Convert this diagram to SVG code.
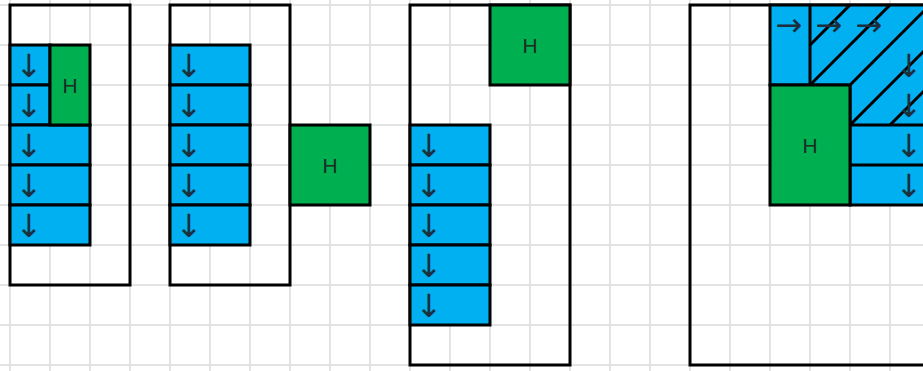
<svg xmlns="http://www.w3.org/2000/svg" width="923" height="371" viewBox="0 0 923 371">
<style>
.grid{stroke:#dcdcdc;stroke-width:1.5;fill:none}
.frame{fill:none;stroke:#000;stroke-width:3}
.b{fill:#00b0f0;stroke:#000;stroke-width:3}
.g{fill:#00b050;stroke:#000;stroke-width:3}
.ln{stroke:#000;stroke-width:3;fill:none}
.ar{font-family:"DejaVu Sans",sans-serif;font-size:32px;fill:#1c2f3e;text-anchor:middle}
.h{font-family:"Liberation Sans",Arial,sans-serif;font-size:21px;fill:#1b2e22;text-anchor:middle}
</style>
<defs>
<clipPath id="c4"><polygon points="810,5 970,5 970,125 850,125 850,85 810,85"/></clipPath>
</defs>
<rect width="923" height="371" fill="#fff"/>
<g id="grid" class="grid">
<path d="M10 0V371M50 0V371M90 0V371M130 0V371M170 0V371M210 0V371M250 0V371M290 0V371M330 0V371M370 0V371M410 0V371M450 0V371M490 0V371M530 0V371M570 0V371M610 0V371M650 0V371M690 0V371M730 0V371M770 0V371M810 0V371M850 0V371M890 0V371"/>
<path d="M0 5H923M0 45H923M0 85H923M0 125H923M0 165H923M0 205H923M0 245H923M0 285H923M0 325H923M0 365H923"/>
</g>
<g id="connectors"/>
<g id="plan1">
<rect class="frame" x="10" y="5" width="120" height="280"/>
<rect class="b" x="10" y="45" width="40" height="40"/>
<rect class="b" x="10" y="85" width="40" height="40"/>
<rect class="b" x="10" y="125" width="80" height="40"/>
<rect class="b" x="10" y="165" width="80" height="40"/>
<rect class="b" x="10" y="205" width="80" height="40"/>
<rect class="g" x="50" y="45" width="40" height="80"/>
<text class="h" x="70" y="93">H</text>
<text class="ar" x="29" y="77">↓</text>
<text class="ar" x="29" y="117">↓</text>
<text class="ar" x="29" y="157">↓</text>
<text class="ar" x="29" y="197">↓</text>
<text class="ar" x="29" y="237">↓</text>
</g>
<g id="plan2">
<rect class="frame" x="170" y="5" width="120" height="280"/>
<rect class="b" x="170" y="45" width="80" height="40"/>
<rect class="b" x="170" y="85" width="80" height="40"/>
<rect class="b" x="170" y="125" width="80" height="40"/>
<rect class="b" x="170" y="165" width="80" height="40"/>
<rect class="b" x="170" y="205" width="80" height="40"/>
<rect class="g" x="290" y="125" width="80" height="80"/>
<text class="h" x="330" y="173">H</text>
<text class="ar" x="189" y="77">↓</text>
<text class="ar" x="189" y="117">↓</text>
<text class="ar" x="189" y="157">↓</text>
<text class="ar" x="189" y="197">↓</text>
<text class="ar" x="189" y="237">↓</text>
</g>
<g id="plan3">
<rect class="frame" x="410" y="5" width="160" height="360"/>
<rect class="g" x="490" y="5" width="80" height="80"/>
<text class="h" x="530" y="53">H</text>
<rect class="b" x="410" y="125" width="80" height="40"/>
<rect class="b" x="410" y="165" width="80" height="40"/>
<rect class="b" x="410" y="205" width="80" height="40"/>
<rect class="b" x="410" y="245" width="80" height="40"/>
<rect class="b" x="410" y="285" width="80" height="40"/>
<text class="ar" x="429" y="157">↓</text>
<text class="ar" x="429" y="197">↓</text>
<text class="ar" x="429" y="237">↓</text>
<text class="ar" x="429" y="277">↓</text>
<text class="ar" x="429" y="317">↓</text>
</g>
<g id="plan4">
<rect class="frame" x="690" y="5" width="300" height="360"/>
<polygon class="b" points="770,5 980,5 980,205 850,205 850,85 770,85"/>
<rect class="g" x="770" y="85" width="80" height="120"/>
<text class="h" x="810" y="153">H</text>
<g class="ln">
<path d="M810 5V85M850 125H980M850 165H980"/>
<g clip-path="url(#c4)">
<path d="M810 45L850 5M810 85L890 5M850 85L930 5M850 125L970 5M890 125L1010 5"/>
</g>
</g>
<text class="ar" x="789" y="36">→</text>
<text class="ar" x="829" y="36">→</text>
<text class="ar" x="869" y="36">→</text>
<text class="ar" x="909" y="77">↓</text>
<text class="ar" x="909" y="117">↓</text>
<text class="ar" x="909" y="157">↓</text>
<text class="ar" x="909" y="197">↓</text>
</g>
</svg>
